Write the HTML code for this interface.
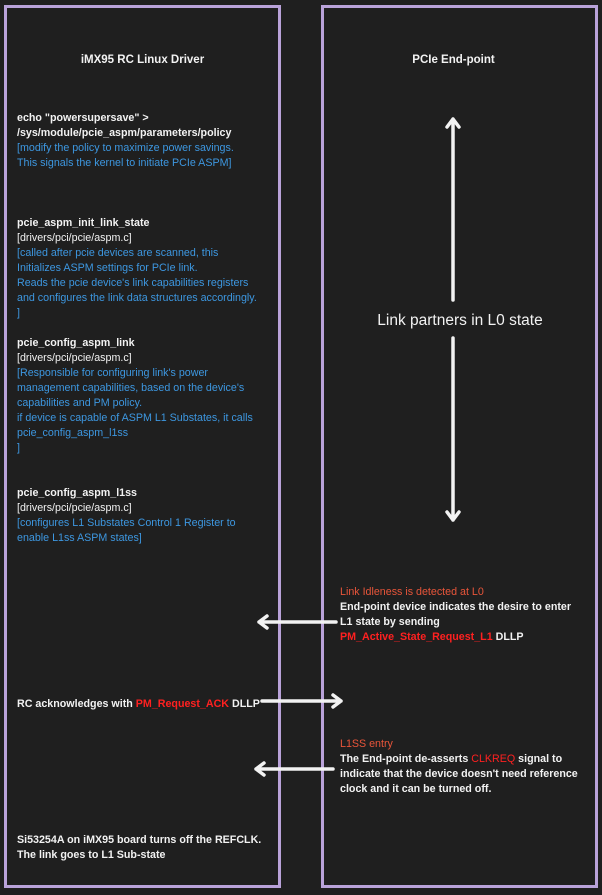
<!DOCTYPE html>
<html><head><meta charset="utf-8"><style>
body{margin:0;width:602px;height:895px;background:#1f1f1f;position:relative;overflow:hidden;font-family:"Liberation Sans",sans-serif;}
.box{position:absolute;border:3px solid #b9a2d9;box-sizing:border-box;}
.t{position:absolute;font-size:10.7px;line-height:15px;white-space:nowrap;color:#f2f2f2;}
.b{font-weight:bold;}
.bl{color:#3d97e0;}
.o{color:#e8553a;}
.r{color:#ff2020;font-weight:bold;}
</style></head><body>
<div class="box" style="left:4px;top:5px;width:277px;height:883px"></div>
<div class="box" style="left:321px;top:5px;width:277px;height:883px"></div>

<div class="t b" style="left:0;width:285px;text-align:center;top:53px;font-size:11.5px">iMX95 RC Linux Driver</div>
<div class="t b" style="left:321px;width:265px;text-align:center;top:53px;font-size:11.5px">PCIe End-point</div>

<div class="t" style="left:17px;top:111px">
<span class="b">echo "powersupersave" &gt;</span><br>
<span class="b">/sys/module/pcie_aspm/parameters/policy</span><br>
<span class="bl">[modify the policy to maximize power savings.</span><br>
<span class="bl">This signals the kernel to initiate PCIe ASPM]</span></div>

<div class="t" style="left:17px;top:216px">
<span class="b">pcie_aspm_init_link_state</span><br>
[drivers/pci/pcie/aspm.c]<br>
<span class="bl">[called after pcie devices are scanned, this<br>Initializes ASPM settings for PCIe link.<br>Reads the pcie device's link capabilities registers<br>and configures the link data structures accordingly.<br>]</span></div>

<div class="t" style="left:17px;top:336px">
<span class="b">pcie_config_aspm_link</span><br>
[drivers/pci/pcie/aspm.c]<br>
<span class="bl">[Responsible for configuring link's power<br>management capabilities, based on the device's<br>capabilities and PM policy.<br>if device is capable of ASPM L1 Substates, it calls<br>pcie_config_aspm_l1ss<br>]</span></div>

<div class="t" style="left:17px;top:486px">
<span class="b">pcie_config_aspm_l1ss</span><br>
[drivers/pci/pcie/aspm.c]<br>
<span class="bl">[configures L1 Substates Control 1 Register to<br>enable L1ss ASPM states]</span></div>

<div class="t" style="left:340px;top:585px">
<span class="o">Link Idleness is detected at L0</span><br>
<span class="b">End-point device indicates the desire to enter<br>L1 state by sending<br></span><span class="r">PM_Active_State_Request_L1</span> <span class="b">DLLP</span></div>

<div class="t b" style="left:17px;top:697px">RC acknowledges with <span class="r">PM_Request_ACK</span> DLLP</div>

<div class="t" style="left:340px;top:737px">
<span class="o">L1SS entry</span><br>
<span class="b">The End-point de-asserts </span><span class="r" style="font-weight:normal">CLKREQ</span><span class="b"> signal to<br>indicate that the device doesn't need reference<br>clock and it can be turned off.</span></div>

<div class="t b" style="left:17px;top:833px">Si53254A on iMX95 board turns off the REFCLK.<br>The link goes to L1 Sub-state</div>

<div class="t" style="left:340px;width:240px;text-align:center;top:311px;font-size:15.5px;line-height:20px">Link partners in L0 state</div>

<svg width="602" height="895" style="position:absolute;left:0;top:0" fill="none" stroke="#f2f2f2" stroke-width="3.5" stroke-linecap="round" stroke-linejoin="round">
<path d="M453 119 V300 M447 127 L453 119 L459 127"/>
<path d="M453 338 V520 M447 512 L453 520 L459 512"/>
<path d="M336 622 H259 M267 616 L259 622 L267 628"/>
<path d="M262 701 H341 M333 695 L341 701 L333 707"/>
<path d="M333 769 H256 M264 763 L256 769 L264 775"/>
</svg>
</body></html>
